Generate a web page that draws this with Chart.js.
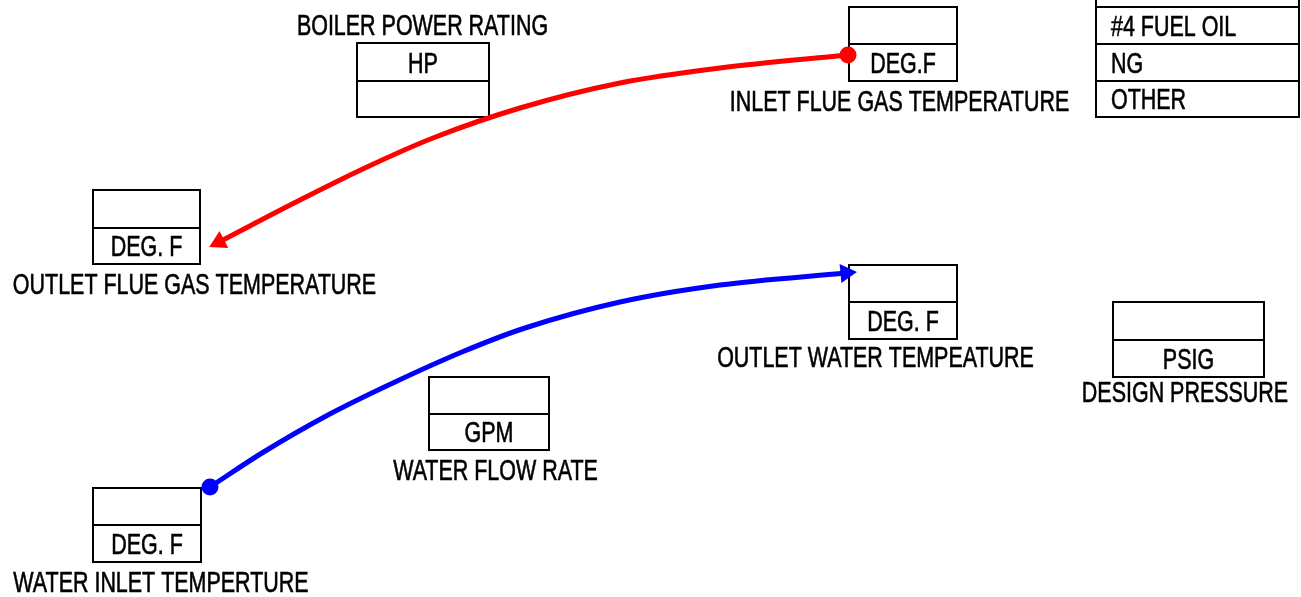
<!DOCTYPE html>
<html>
<head>
<meta charset="utf-8">
<script src="https://cdn.jsdelivr.net/npm/chart.js@4.4.0/dist/chart.umd.min.js"></script>
<style>
    html, body { margin: 0; padding: 0; background: #fff; }
    canvas { display: block; }
</style>
</head>
<body>
<canvas id="diagram" width="1301" height="597"></canvas>
<script>
// field units and captions, one per box (same order as the layout below)
const boxUnits = ['HP', 'DEG.F', 'DEG. F', 'GPM', 'DEG. F', 'PSIG', 'DEG. F'];
const boxCaptions = [
    'BOILER POWER RATING',
    'INLET FLUE GAS TEMPERATURE',
    'OUTLET FLUE GAS TEMPERATURE',
    'WATER FLOW RATE',
    'OUTLET WATER TEMPEATURE',
    'DESIGN PRESSURE',
    'WATER INLET TEMPERTURE'
];
const fuelOptions = ['#4 FUEL OIL', 'NG', 'OTHER'];

// flue gas path (inlet -> outlet) and water path (inlet -> outlet)
const flueGasX = [848, 720, 620, 520, 433, 367, 300, 219];
const flueGasY = [55, 68, 83, 108, 138, 167, 200, 242];
const waterX = [210, 262, 328, 395, 462, 525, 620, 720, 846];
const waterY = [487, 453, 415, 382, 352, 328, 302, 285, 273];

// layout of the input boxes, in the same units as the scales
const boxLayout = [
    { left: 357, right: 489, top: 43, bottom: 117, split: 81, unitTop: true, capX: 422.5, capY: 35 },
    { left: 849, right: 957, top: 7, bottom: 81, split: 44, capX: 899.5, capY: 111 },
    { left: 93, right: 200, top: 190, bottom: 264, split: 228, capX: 194.5, capY: 293.5 },
    { left: 429, right: 549, top: 377, bottom: 450, split: 414, capX: 495.5, capY: 480 },
    { left: 849, right: 957, top: 265, bottom: 339, split: 302, capX: 875.5, capY: 367 },
    { left: 1113, right: 1264, top: 302, bottom: 377, split: 340, capX: 1185, capY: 402 },
    { left: 93, right: 201, top: 488, bottom: 562, split: 525, capX: 161, capY: 591.5 }
];
const fuelTable = { left: 1096, right: 1299, rows: [-30, 7, 44, 81, 117], textX: 1111 };

function drawText(ctx, str, x, y, align) {
    ctx.save();
    ctx.translate(x, y);
    ctx.scale(0.74, 1);
    ctx.font = '29px "Liberation Sans", Arial, sans-serif';
    ctx.textAlign = align;
    ctx.textBaseline = 'alphabetic';
    ctx.fillStyle = '#000';
    ctx.strokeStyle = '#000';
    ctx.lineWidth = 0.6;
    ctx.fillText(str, 0, 0);
    ctx.strokeText(str, 0, 0);
    ctx.restore();
}

const boxPlugin = {
    id: 'boxes',
    beforeDatasetsDraw(chart) {
        const ctx = chart.ctx;
        const px = v => chart.scales.x.getPixelForValue(v);
        const py = v => chart.scales.y.getPixelForValue(v);
        ctx.save();
        ctx.strokeStyle = '#000';
        ctx.lineWidth = 2;

        boxLayout.forEach((b, i) => {
            const l = px(b.left), r = px(b.right), t = py(b.top), bt = py(b.bottom), m = py(b.split);
            ctx.strokeRect(l, t, r - l, bt - t);
            ctx.beginPath();
            ctx.moveTo(l, m);
            ctx.lineTo(r, m);
            ctx.stroke();
            const unitBase = b.unitTop ? m - 8 : bt - 8;
            drawText(ctx, boxUnits[i], (l + r) / 2, unitBase, 'center');
            drawText(ctx, boxCaptions[i], px(b.capX), py(b.capY), 'center');
        });

        // fuel type table, top row runs off the page
        const fl = px(fuelTable.left), fr = px(fuelTable.right);
        const rowsPx = fuelTable.rows.map(py);
        ctx.strokeRect(fl, rowsPx[0], fr - fl, rowsPx[rowsPx.length - 1] - rowsPx[0]);
        rowsPx.slice(1, -1).forEach(y => {
            ctx.beginPath();
            ctx.moveTo(fl, y);
            ctx.lineTo(fr, y);
            ctx.stroke();
        });
        fuelOptions.forEach((opt, i) => {
            drawText(ctx, opt, px(fuelTable.textX), rowsPx[i + 2] - 8, 'left');
        });
        ctx.restore();
    }
};

// dot at the start, arrowhead at the end, turned along the last segment
function pathDataset(xs, ys, color) {
    const last = xs.length - 1;
    return {
        type: 'line',
        data: xs.map((x, i) => ({ x: x, y: ys[i] })),
        borderColor: color,
        backgroundColor: color,
        borderWidth: 5,
        cubicInterpolationMode: 'monotone',
        fill: false,
        pointBackgroundColor: color,
        pointBorderWidth: 0,
        pointStyle: c => c.dataIndex === last ? 'triangle' : 'circle',
        pointRadius: c => c.dataIndex === 0 ? 8.5 : (c.dataIndex === last ? 11 : 0),
        pointRotation: c => {
            if (c.dataIndex !== last) return 0;
            const sx = c.chart.scales.x, sy = c.chart.scales.y;
            const dx = sx.getPixelForValue(xs[last]) - sx.getPixelForValue(xs[last - 1]);
            const dy = sy.getPixelForValue(ys[last]) - sy.getPixelForValue(ys[last - 1]);
            return Math.atan2(dx, -dy) * 180 / Math.PI;
        },
        clip: false
    };
}

new Chart(document.getElementById('diagram'), {
    type: 'scatter',
    data: {
        datasets: [
            pathDataset(flueGasX, flueGasY, '#ff0000'),
            pathDataset(waterX, waterY, '#0000ff')
        ]
    },
    options: {
        responsive: false,
        devicePixelRatio: 1,
        animation: false,
        events: [],
        layout: { padding: 0, autoPadding: false },
        scales: {
            x: { type: 'linear', min: 0, max: 1301, display: false },
            y: { type: 'linear', min: 0, max: 597, reverse: true, display: false }
        },
        plugins: {
            legend: { display: false },
            tooltip: { enabled: false }
        }
    },
    plugins: [boxPlugin]
});
</script>
</body>
</html>
